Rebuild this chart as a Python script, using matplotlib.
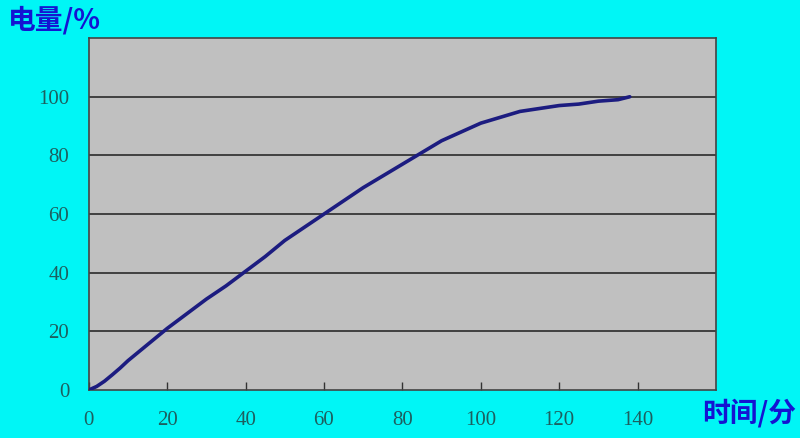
import numpy as np
import matplotlib
matplotlib.use("Agg")
import matplotlib.pyplot as plt

plt.rcParams['font.family'] = ['Noto Sans CJK SC', 'DejaVu Sans']

# charging curve: time (min) vs charge (%)
time_min = [0, 2, 4, 6, 8, 10, 15, 20, 25, 30, 35, 40, 45, 50, 55, 60, 65, 70,
            75, 80, 85, 90, 95, 100, 105, 110, 115, 120, 125, 130, 135, 138]
charge_pct = [0, 1.2, 3, 5.2, 7.5, 10, 15.5, 21, 26, 31, 35.5, 40.5, 45.5, 51,
              55.5, 60, 64.5, 69, 73, 77, 81, 85, 88, 91, 93, 95, 96, 97,
              97.5, 98.5, 99, 100]
x_ticks = [0, 20, 40, 60, 80, 100, 120, 140]
y_ticks = [0, 20, 40, 60, 80, 100]

fig = plt.figure(figsize=(8, 4.38), dpi=100)
fig.patch.set_facecolor("#00f6f6")
ax = fig.add_axes([0.111, 0.1096, 0.784, 0.8034])
ax.set_facecolor("#c0c0c0")

ax.plot(time_min, charge_pct, color="#1c1c80", linewidth=2.6,
        solid_capstyle="round", solid_joinstyle="round", zorder=3)

ax.set_xlim(0, 160)
ax.set_ylim(0, 120)
ax.set_xticks(x_ticks)
ax.set_yticks(y_ticks)
ax.set_xticklabels([str(v) for v in x_ticks], family="Liberation Serif",
                   fontsize=15, color="#1d5f5f")
ax.set_yticklabels([str(v) for v in y_ticks], family="Liberation Serif",
                   fontsize=15, color="#1d5f5f")
ax.tick_params(axis="x", direction="in", length=6, width=1, color="#333333", pad=15)
ax.tick_params(axis="y", length=0, pad=14)

for y in y_ticks[1:]:
    ax.axhline(y, color="#2a2a2a", linewidth=1.2, zorder=1)

for s in ax.spines.values():
    s.set_color("#444444")
    s.set_linewidth(1.2)

fig.text(0.01, 0.953, "电量/%", fontsize=20, fontweight="bold", color="#1414d2",
         ha="left", va="center")
fig.text(0.995, 0.056, "时间/分", fontsize=20, fontweight="bold", color="#1414d2",
         ha="right", va="center")

fig.savefig("out.png", dpi=100, facecolor=fig.get_facecolor())
